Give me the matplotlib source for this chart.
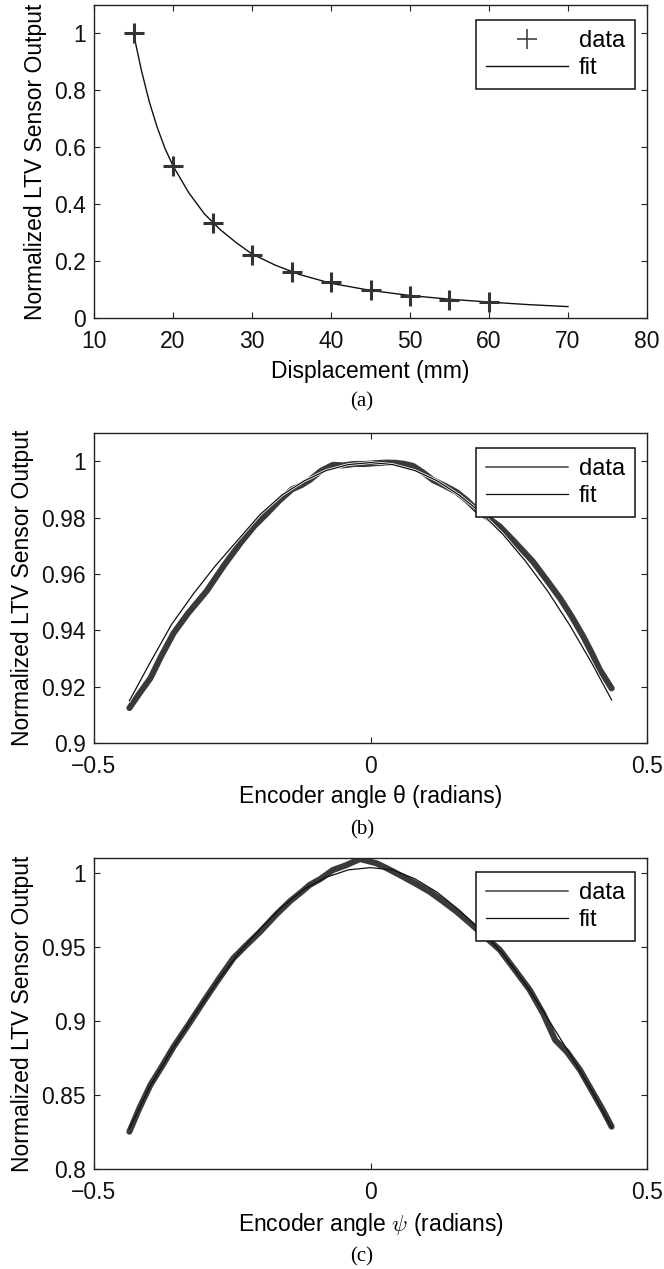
import matplotlib
matplotlib.use("Agg")
import matplotlib.pyplot as plt
import matplotlib.patheffects as pe

plt.rcParams['font.family'] = ['Liberation Sans', 'DejaVu Sans']
plt.rcParams['mathtext.fontset'] = 'cm'

# (a) displacement calibration
disp_mm = [15, 20, 25, 30, 35, 40, 45, 50, 55, 60]
disp_out = [1.0, 0.535, 0.333, 0.223, 0.162, 0.125, 0.098, 0.078, 0.063, 0.056]
disp_fit_x = [15, 16, 17, 18, 19, 20, 22, 24, 26, 28, 30, 33, 36, 40, 45, 50, 55, 60, 65, 70]
disp_fit_y = [1.0, 0.87, 0.76, 0.67, 0.595, 0.535, 0.44, 0.365, 0.31, 0.265, 0.225, 0.185,
              0.153, 0.122, 0.097, 0.079, 0.066, 0.056, 0.047, 0.040]

# (b) encoder angle theta
theta = [-0.436, -0.42, -0.398, -0.378, -0.356, -0.33, -0.296, -0.265, -0.235, -0.21, -0.187,
         -0.165, -0.142, -0.125, -0.11, -0.09, -0.068, -0.05, -0.03, -0.01, 0.01, 0.03, 0.047,
         0.062, 0.077, 0.095, 0.113, 0.135, 0.156, 0.175, 0.192, 0.212, 0.234, 0.26, 0.294,
         0.318, 0.343, 0.365, 0.385, 0.4, 0.415, 0.426, 0.436]
theta_out = [0.9124, 0.917, 0.923, 0.931, 0.939, 0.946, 0.954, 0.963, 0.971, 0.977, 0.9815,
             0.986, 0.990, 0.9915, 0.9933, 0.9965, 0.9987, 0.9985, 0.9990, 0.9990, 0.9993,
             0.9995, 0.9994, 0.9990, 0.9983, 0.9960, 0.9933, 0.9912, 0.989, 0.986, 0.9827,
             0.980, 0.9768, 0.9715, 0.9643, 0.958, 0.9513, 0.9445, 0.9377, 0.932, 0.9259,
             0.9225, 0.9194]
theta_fit_x = [-0.436, -0.4, -0.36, -0.32, -0.28, -0.24, -0.2, -0.16, -0.12, -0.08, -0.04, 0,
               0.04, 0.08, 0.12, 0.16, 0.2, 0.24, 0.28, 0.32, 0.36, 0.4, 0.436]
theta_fit_y = [0.915, 0.928, 0.942, 0.953, 0.963, 0.972, 0.981, 0.988, 0.993, 0.9967, 0.9988,
               0.9995, 0.9988, 0.9967, 0.9931, 0.988, 0.9817, 0.9739, 0.9646, 0.954, 0.9419,
               0.9284, 0.9153]

# (c) encoder angle psi
psi = [-0.436, -0.418, -0.398, -0.376, -0.356, -0.33, -0.302, -0.275, -0.248, -0.225, -0.2,
       -0.17, -0.145, -0.125, -0.11, -0.09, -0.068, -0.045, -0.03, -0.019, -0.005, 0.011, 0.03,
       0.053, 0.08, 0.107, 0.13, 0.156, 0.18, 0.204, 0.234, 0.26, 0.288, 0.312, 0.334, 0.355,
       0.379, 0.403, 0.42, 0.436]
psi_out = [0.8252, 0.841, 0.8567, 0.870, 0.8826, 0.897, 0.913, 0.928, 0.9423, 0.951, 0.960,
           0.972, 0.981, 0.987, 0.9918, 0.996, 1.0019, 1.005, 1.0075, 1.0093, 1.008, 1.0064,
           1.003, 0.9985, 0.993, 0.9872, 0.981, 0.9737, 0.966, 0.958, 0.9479, 0.935, 0.9209,
           0.9051, 0.8871, 0.8792, 0.8668, 0.8511, 0.840, 0.8286]
psi_fit_x = [-0.436, -0.4, -0.36, -0.32, -0.28, -0.24, -0.2, -0.16, -0.12, -0.08, -0.04, 0,
             0.04, 0.08, 0.12, 0.16, 0.2, 0.24, 0.28, 0.32, 0.36, 0.4, 0.436]
psi_fit_y = [0.827, 0.855, 0.880, 0.903, 0.925, 0.945, 0.962, 0.977, 0.989, 0.997, 1.002,
             1.0035, 1.002, 0.996, 0.987, 0.975, 0.961, 0.945, 0.925, 0.902, 0.878, 0.853, 0.828]

W, H = 664, 1269
fig = plt.figure(figsize=(W / 100, H / 100), dpi=100)

ylabel = 'Normalized LTV Sensor Output'
edge = '#222222'
fs = 16.5


def make_axes(top_px, bottom_px):
    left, right = 94, 647
    ax = fig.add_axes([left / W, (H - bottom_px) / H, (right - left) / W, (bottom_px - top_px) / H])
    ax.tick_params(direction='in', top=True, right=True, length=4.5, width=0.8,
                   labelsize=fs, colors=edge, labelcolor='#111111')
    ax.tick_params(axis='x', pad=8.5)
    ax.tick_params(axis='y', pad=6)
    for s in ax.spines.values():
        s.set_color(edge)
        s.set_linewidth(1.0)
    ax.set_ylabel(ylabel, fontsize=fs, labelpad=5)
    return ax


def add_legend(ax, handles, labels, anchor_y):
    leg = ax.legend(handles, labels, loc='upper right', bbox_to_anchor=(0.978, anchor_y),
                    borderaxespad=0, fontsize=17, handlelength=3.5, handletextpad=0.45,
                    labelspacing=0.22, borderpad=0.42, fancybox=False, framealpha=1,
                    edgecolor='#111111')
    leg.get_frame().set_linewidth(1.1)
    return leg


halo = [pe.Stroke(linewidth=2.0, foreground='white'), pe.Normal()]

# ---- (a)
ax1 = make_axes(5, 318)
fit1, = ax1.plot(disp_fit_x, disp_fit_y, color='#111111', linewidth=1.0)
dat1, = ax1.plot(disp_mm, disp_out, linestyle='none', marker='+', markersize=14.5,
                 markeredgewidth=2.2, color='#333333')
ax1.set_xlim(10, 80)
ax1.set_ylim(0, 1.1)
ax1.set_xticks([10, 20, 30, 40, 50, 60, 70, 80])
ax1.set_yticks([0, 0.2, 0.4, 0.6, 0.8, 1])
ax1.set_yticklabels(['0', '0.2', '0.4', '0.6', '0.8', '1'])
ax1.set_xlabel('Displacement (mm)', fontsize=fs, labelpad=5)
leg1 = add_legend(ax1, [dat1, fit1], ['data', 'fit'], 0.952)
leg1.legend_handles[0].set_markeredgewidth(1.2)
leg1.legend_handles[0].set_color('#444444')

# ---- (b)
ax2 = make_axes(433, 743)
dat2, = ax2.plot(theta, theta_out, color='#3a3a3a', linewidth=4.4, solid_capstyle='round')
fit2, = ax2.plot(theta_fit_x, theta_fit_y, color='#111111', linewidth=0.9, path_effects=halo)
ax2.set_xlim(-0.5, 0.5)
ax2.set_ylim(0.9, 1.01)
ax2.set_xticks([-0.5, 0, 0.5])
ax2.set_xticklabels(['\u22120.5', '0', '0.5'])
ax2.set_yticks([0.9, 0.92, 0.94, 0.96, 0.98, 1])
ax2.set_yticklabels(['0.9', '0.92', '0.94', '0.96', '0.98', '1'])
ax2.set_xlabel('Encoder angle \u03b8 (radians)', fontsize=fs, labelpad=5)
leg2 = add_legend(ax2, [dat2, fit2], ['data', 'fit'], 0.952)
leg2.get_lines()[0].set_linewidth(1.4)
leg2.get_lines()[0].set_color('#666666')
leg2.get_lines()[1].set_path_effects([])

# ---- (c)
ax3 = make_axes(858, 1169)
dat3, = ax3.plot(psi, psi_out, color='#3a3a3a', linewidth=4.4, solid_capstyle='round')
fit3, = ax3.plot(psi_fit_x, psi_fit_y, color='#111111', linewidth=0.9)
ax3.set_xlim(-0.5, 0.5)
ax3.set_ylim(0.8, 1.01)
ax3.set_xticks([-0.5, 0, 0.5])
ax3.set_xticklabels(['\u22120.5', '0', '0.5'])
ax3.set_yticks([0.8, 0.85, 0.9, 0.95, 1])
ax3.set_yticklabels(['0.8', '0.85', '0.9', '0.95', '1'])
ax3.set_xlabel(r'Encoder angle $\psi$ (radians)', fontsize=fs, labelpad=5)
leg3 = add_legend(ax3, [dat3, fit3], ['data', 'fit'], 0.955)
leg3.get_lines()[0].set_linewidth(1.4)
leg3.get_lines()[0].set_color('#666666')

# panel captions
for lab, y_px in [('(a)', 402), ('(b)', 830), ('(c)', 1257)]:
    fig.text(0.545, (H - y_px) / H, lab, ha='center', va='center',
             family='Liberation Serif', fontsize=15)

fig.savefig('out.png', dpi=100)
